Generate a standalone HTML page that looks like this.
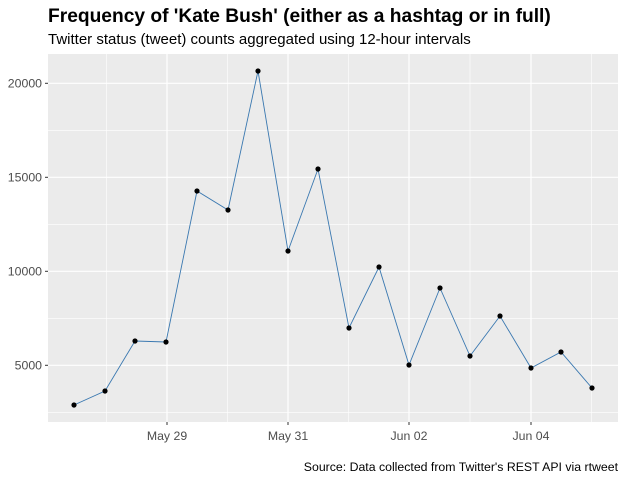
<!DOCTYPE html><html><head><style>body{margin:0;background:#fff}svg{display:block;font-family:"Liberation Sans",Arial,sans-serif}</style></head><body>
<svg width="626" height="480" xmlns="http://www.w3.org/2000/svg">
<rect width="626" height="480" fill="#fff"/>
<text x="48" y="22" font-size="19.2" font-weight="bold" fill="#000">Frequency of 'Kate Bush' (either as a hashtag or in full)</text>
<text x="48" y="44" font-size="15" fill="#000">Twitter status (tweet) counts aggregated using 12-hour intervals</text>
<rect x="48" y="54" width="570" height="368" fill="#ebebeb"/>
<g stroke="#fff" stroke-width="0.6">
<line x1="48" x2="618" y1="412.3" y2="412.3"/><line x1="48" x2="618" y1="318.3" y2="318.3"/><line x1="48" x2="618" y1="224.3" y2="224.3"/><line x1="48" x2="618" y1="130.3" y2="130.3"/>
<line y1="54" y2="422" x1="106.5" x2="106.5"/><line y1="54" y2="422" x1="227.5" x2="227.5"/><line y1="54" y2="422" x1="348.5" x2="348.5"/><line y1="54" y2="422" x1="470" x2="470"/><line y1="54" y2="422" x1="591.5" x2="591.5"/>
</g>
<g stroke="#fff" stroke-width="1.2">
<line x1="48" x2="618" y1="365.3" y2="365.3"/><line x1="48" x2="618" y1="271.3" y2="271.3"/><line x1="48" x2="618" y1="177.3" y2="177.3"/><line x1="48" x2="618" y1="83.3" y2="83.3"/>
<line y1="54" y2="422" x1="167" x2="167"/><line y1="54" y2="422" x1="288" x2="288"/><line y1="54" y2="422" x1="409" x2="409"/><line y1="54" y2="422" x1="531" x2="531"/>
</g>
<g stroke="#333" stroke-width="1">
<line x1="45" x2="48" y1="365.3" y2="365.3"/><line x1="45" x2="48" y1="271.3" y2="271.3"/><line x1="45" x2="48" y1="177.3" y2="177.3"/><line x1="45" x2="48" y1="83.3" y2="83.3"/>
<line y1="422" y2="425" x1="167" x2="167"/><line y1="422" y2="425" x1="288" x2="288"/><line y1="422" y2="425" x1="409" x2="409"/><line y1="422" y2="425" x1="531" x2="531"/>
</g>
<g font-size="12.3" fill="#4d4d4d" text-anchor="end">
<text x="42" y="369.5">5000</text><text x="42" y="275.5">10000</text><text x="42" y="181.5">15000</text><text x="42" y="87.5">20000</text>
</g>
<g font-size="12.3" fill="#4d4d4d" text-anchor="middle">
<text x="167" y="440">May 29</text><text x="288" y="440">May 31</text><text x="409" y="440">Jun 02</text><text x="531" y="440">Jun 04</text>
</g>
<polyline fill="none" stroke="#3a78b0" stroke-width="0.9" points="74,405 105,391 135,341 166,342 197,191 228,210 258,71 288,251 318,169 349,328 379,267 409,365 440,288 470,356 500,316 531,368 561,352 592,388"/>
<g fill="#000">
<circle cx="74" cy="405" r="2.6"/><circle cx="105" cy="391" r="2.6"/><circle cx="135" cy="341" r="2.6"/><circle cx="166" cy="342" r="2.6"/><circle cx="197" cy="191" r="2.6"/><circle cx="228" cy="210" r="2.6"/><circle cx="258" cy="71" r="2.6"/><circle cx="288" cy="251" r="2.6"/><circle cx="318" cy="169" r="2.6"/><circle cx="349" cy="328" r="2.6"/><circle cx="379" cy="267" r="2.6"/><circle cx="409" cy="365" r="2.6"/><circle cx="440" cy="288" r="2.6"/><circle cx="470" cy="356" r="2.6"/><circle cx="500" cy="316" r="2.6"/><circle cx="531" cy="368" r="2.6"/><circle cx="561" cy="352" r="2.6"/><circle cx="592" cy="388" r="2.6"/>
</g>
<text x="618" y="471" font-size="12.3" fill="#000" text-anchor="end">Source: Data collected from Twitter's REST API via rtweet</text>
</svg></body></html>
